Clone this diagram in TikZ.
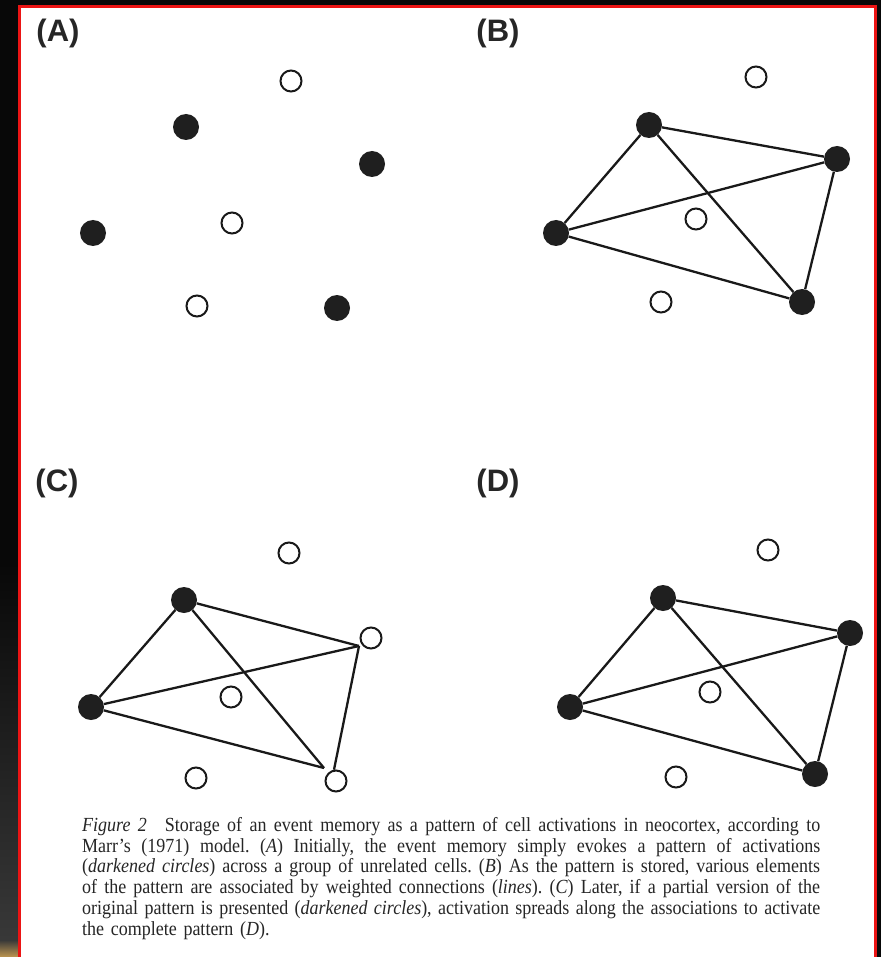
\documentclass[tikz,border=0pt]{standalone}
\usepackage{fontspec}
\setmainfont{Liberation Serif}[FakeStretch=0.9]
\newfontfamily\labelfont{Liberation Sans}
\definecolor{goldband}{RGB}{190,150,80}
\definecolor{framered}{RGB}{235,20,20}
\newcommand\capline[1]{\leavevmode\hbox to 738pt{\frenchspacing\spaceskip=0.22em plus 1fil\relax #1}}
\begin{document}
\begin{tikzpicture}[x=1pt,y=-1pt,
  on/.style={circle,fill=black!88,minimum size=26pt,inner sep=0pt},
  off/.style={circle,draw=black!90,line width=2pt,fill=white,minimum size=21pt,inner sep=0pt},
  link/.style={line width=2.3pt,draw=black!90},
  plabel/.style={font=\labelfont\bfseries\fontsize{31}{31}\selectfont,inner sep=0pt,text=black!85},
  captext/.style={anchor=north west,text width=738pt,align=left,inner sep=0pt,
    font=\fontsize{20}{20.8}\selectfont,text=black!85},
]
\useasboundingbox (0,0) rectangle (881,957);
% frame and background
\fill[black!97] (0,0) rectangle (881,957);
\shade[top color=black!97, bottom color=black!78] (0,560) rectangle (19,940);
\shade[top color=black!78, bottom color=goldband] (0,940) rectangle (19,957);
\fill[white] (19.5,6.5) rectangle (876,957);
\draw[framered, line width=2.5pt] (19.5,957) -- (19.5,6.5) -- (875.5,6.5) -- (875.5,957);

% panel labels
\node[plabel] (la) at (58,33) {(A)};
\node[plabel] (lb) at (498,33) {(B)};
\node[plabel] (lc) at (57,483) {(C)};
\node[plabel] (ld) at (498,483) {(D)};

% panel A
\node[off] (a1) at (291,81) {};
\node[on]  (a2) at (186,127) {};
\node[on]  (a3) at (372,164) {};
\node[off] (a4) at (232,223) {};
\node[on]  (a5) at (93,233) {};
\node[off] (a6) at (197,306) {};
\node[on]  (a7) at (337,308) {};

% panel B
\node[off] (b1) at (756,77) {};
\node[on]  (b2) at (649,125) {};
\node[on]  (b3) at (837,159) {};
\node[off] (b4) at (696,219) {};
\node[on]  (b5) at (556,233) {};
\node[off] (b6) at (661,302) {};
\node[on]  (b7) at (802,302) {};
\draw[link] (b2) -- (b3);
\draw[link] (b2) -- (b5);
\draw[link] (b2) -- (b7);
\draw[link] (b5) -- (b3);
\draw[link] (b5) -- (b7);
\draw[link] (b3) -- (b7);

% panel C
\node[off] (c1) at (289,553) {};
\node[on]  (c2) at (184,600) {};
\node[off] (c3) at (371,638) {};
\node[off] (c4) at (231,697) {};
\node[on]  (c5) at (91,707) {};
\node[off] (c6) at (196,778) {};
\node[off] (c7) at (336,781) {};
\coordinate (c3j) at (359,646);
\coordinate (c7j) at (324,768);
\draw[link] (c2) -- (c3j);
\draw[link] (c2) -- (c5);
\draw[link] (c2) -- (c7j);
\draw[link] (c5) -- (c3j);
\draw[link] (c5) -- (c7j);
\draw[link] (c3j) -- (c7.100);

% panel D
\node[off] (d1) at (768,550) {};
\node[on]  (d2) at (663,598) {};
\node[on]  (d3) at (850,633) {};
\node[off] (d4) at (710,692) {};
\node[on]  (d5) at (570,707) {};
\node[off] (d6) at (676,777) {};
\node[on]  (d7) at (815,774) {};
\draw[link] (d2) -- (d3);
\draw[link] (d2) -- (d5);
\draw[link] (d2) -- (d7);
\draw[link] (d5) -- (d3);
\draw[link] (d5) -- (d7);
\draw[link] (d3) -- (d7);

% caption
\node[captext] (cap) at (82,817) {%
\capline{\textit{Figure 2}\hspace{0.9em}Storage of an event memory as a pattern of cell activations in neocortex, according to}\\
\capline{Marr's (1971) model. (\textit{A}) Initially, the event memory simply evokes a pattern of activations}\\
\capline{(\textit{darkened circles}) across a group of unrelated cells. (\textit{B}) As the pattern is stored, various elements}\\
\capline{of the pattern are associated by weighted connections (\textit{lines}). (\textit{C}) Later, if a partial version of the}\\
\capline{original pattern is presented (\textit{darkened circles}), activation spreads along the associations to activate}\\
the complete pattern (\textit{D}).};
\end{tikzpicture}
\end{document}
